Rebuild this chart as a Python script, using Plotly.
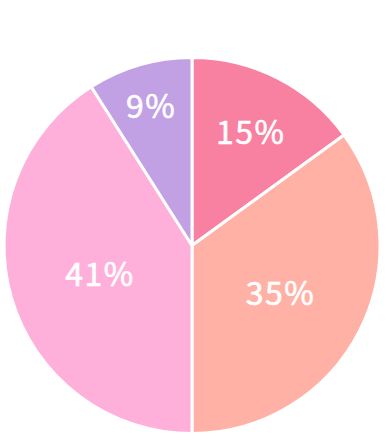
import plotly.graph_objects as go

labels = ["A", "B", "C", "D"]
values = [15, 35, 41, 9]
colors = ["#F880A0", "#FFB1A6", "#FFB0DA", "#C1A1E3"]

fig = go.Figure(go.Pie(
    labels=labels,
    values=values,
    sort=False,
    direction="clockwise",
    rotation=0,
    marker=dict(colors=colors, line=dict(color="white", width=3)),
    textinfo="percent",
    texttemplate="%{percent:.0%}",
    textposition="inside",
    insidetextorientation="horizontal",
    textfont=dict(family="Noto Sans CJK JP", size=32,
                  color="white", weight=400),
    hoverinfo="skip",
    domain=dict(x=[0.0104, 0.987], y=[0.0103, 0.8687]),
))
fig.update_layout(
    width=385, height=438,
    margin=dict(l=0, r=0, t=0, b=0),
    showlegend=False,
    paper_bgcolor="white",
    plot_bgcolor="white",
)
post = (
    "var s=document.createElement('style');"
    "s.textContent='.slicetext text{letter-spacing:1.5px;stroke:white;stroke-width:0.6px;}';"
    "document.head.appendChild(s);"
    "Plotly.relayout('{plot_id}', {});"
)
fig.write_html("out.html", post_script=post)
